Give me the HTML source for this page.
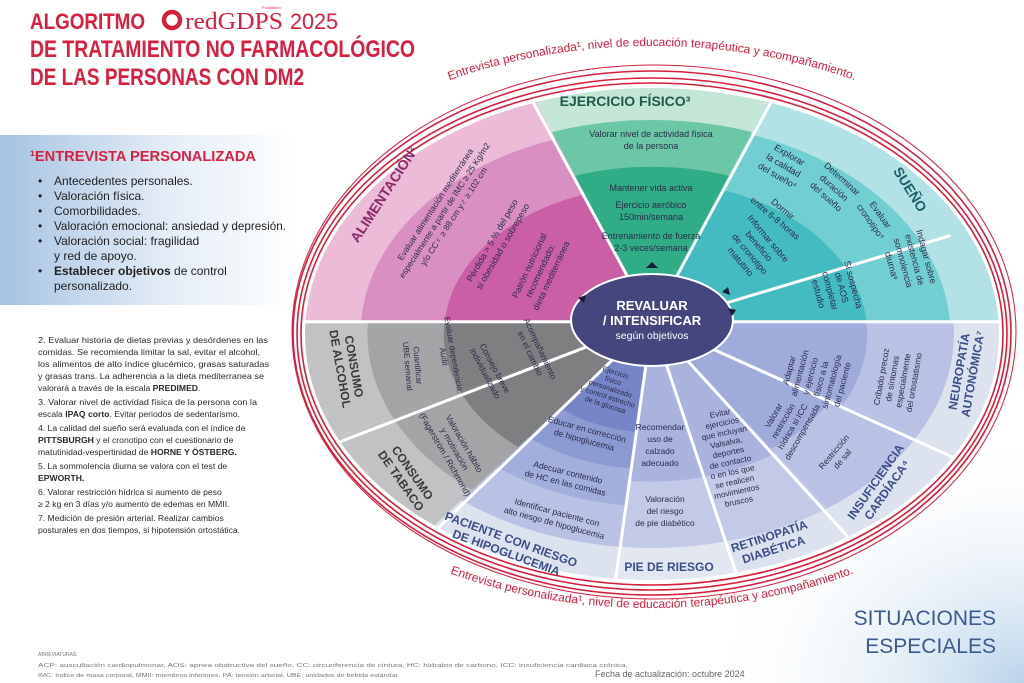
<!DOCTYPE html>
<html><head><meta charset="utf-8"><style>
html,body{margin:0;padding:0;background:#fff}
svg{display:block}
.n{font-family:"Liberation Sans Narrow","Liberation Sans",sans-serif}
.s{font-family:"Liberation Sans",sans-serif}
.w{fill:#2b2c4a;text-anchor:middle}
.lb{font-weight:bold;text-anchor:middle}
</style></head><body>
<svg width="1024" height="683" viewBox="0 0 1024 683" xmlns="http://www.w3.org/2000/svg">
<defs>
<linearGradient id="lg" x1="0" x2="1" y1="0" y2="0"><stop offset="0" stop-color="#a6c3e2"/><stop offset="0.55" stop-color="#e3ecf6"/><stop offset="1" stop-color="#fff"/></linearGradient>
<radialGradient id="br" cx="1" cy="1" r="1"><stop offset="0" stop-color="#b9d3ea"/><stop offset="1" stop-color="#fff" stop-opacity="0"/></radialGradient>
<clipPath id="c1"><polygon points="0,-0.05 -0.684,-1.879 -1.638,-1.147 -2,-0.05"/></clipPath>
<clipPath id="c2"><polygon points="0,-0.05 0.684,-1.879 0,-2 -0.684,-1.879"/></clipPath>
<clipPath id="c3"><polygon points="0,-0.05 2,-0.05 1.638,-1.147 0.684,-1.879"/></clipPath>
<clipPath id="c4"><polygon points="0,-0.05 2,-0.05 1.732,1"/></clipPath>
<clipPath id="c5"><polygon points="0,-0.05 1.732,1 1.130,1.650"/></clipPath>
<clipPath id="c6"><polygon points="0,-0.05 1.130,1.650 0.484,1.940"/></clipPath>
<clipPath id="c7"><polygon points="0,-0.05 0.484,1.940 -0.209,1.989"/></clipPath>
<clipPath id="c8"><polygon points="0,-0.05 -0.209,1.989 -1.231,1.576"/></clipPath>
<clipPath id="c9"><polygon points="0,-0.05 -1.231,1.576 -1.798,0.877"/></clipPath>
<clipPath id="c10"><polygon points="0,-0.05 -1.798,0.877 -2,-0.05"/></clipPath>
<path id="tp" d="M 222,336 A 430 290 0 0 1 1082,336"/>
<path id="bp" d="M 232,330 A 420 280 0 0 0 1072,330"/>
</defs>
<rect x="0" y="0" width="1024" height="683" fill="#fff"/>
<rect x="700" y="430" width="324" height="253" fill="url(#br)"/>
<rect x="0" y="135" width="300" height="170" fill="url(#lg)"/>

<g class="s" fill="#d81f3e" font-weight="bold">
<text x="30" y="29" font-size="22" textLength="115" lengthAdjust="spacingAndGlyphs">ALGORITMO</text>
<text x="30" y="57" font-size="24" textLength="385" lengthAdjust="spacingAndGlyphs">DE TRATAMIENTO NO FARMACOLÓGICO</text>
<text x="30" y="85" font-size="24" textLength="274" lengthAdjust="spacingAndGlyphs">DE LAS PERSONAS CON DM2</text>
</g>
<circle cx="172" cy="20" r="8" fill="none" stroke="#d81f3e" stroke-width="4.5"/>
<text x="185" y="29" font-family="Liberation Serif,serif" font-size="24" fill="#d81f3e" textLength="98" lengthAdjust="spacingAndGlyphs">redGDPS</text>
<text x="262" y="9" font-family="Liberation Sans" font-size="4" fill="#d81f3e">Fundación</text>
<text x="290" y="29" class="s" font-size="22" fill="#d81f3e" textLength="48" lengthAdjust="spacingAndGlyphs">2025</text>

<text x="30" y="161" class="s" font-weight="bold" font-size="15" fill="#d81f3e" textLength="226" lengthAdjust="spacingAndGlyphs">¹ENTREVISTA PERSONALIZADA</text>
<g class="s" font-size="12" fill="#222">
<text x="38" y="185">•</text><text x="54" y="185">Antecedentes personales.</text>
<text x="38" y="200">•</text><text x="54" y="200">Valoración física.</text>
<text x="38" y="215">•</text><text x="54" y="215">Comorbilidades.</text>
<text x="38" y="230">•</text><text x="54" y="230" textLength="232" lengthAdjust="spacingAndGlyphs">Valoración emocional: ansiedad y depresión.</text>
<text x="38" y="245">•</text><text x="54" y="245">Valoración social: fragilidad</text>
<text x="54" y="260">y red de apoyo.</text>
<text x="38" y="275">•</text><text x="54" y="275"><tspan font-weight="bold">Establecer objetivos</tspan> de control</text>
<text x="54" y="290">personalizado.</text>
</g>
<g class="s" font-size="8.6" fill="#2a2a2a">
<text x="38" y="343" textLength="230" lengthAdjust="spacingAndGlyphs">2. Evaluar historia de dietas previas y desórdenes en las</text>
<text x="38" y="355" textLength="222" lengthAdjust="spacingAndGlyphs">comidas. Se recomienda limitar la sal, evitar el alcohol,</text>
<text x="38" y="367" textLength="231" lengthAdjust="spacingAndGlyphs">los alimentos de alto índice glucémico, grasas saturadas</text>
<text x="38" y="379" textLength="226" lengthAdjust="spacingAndGlyphs">y grasas trans. La adherencia a la dieta mediterranea se</text>
<text x="38" y="391">valorará a través de la escala <tspan font-weight="bold">PREDIMED</tspan>.</text>
<text x="38" y="405" textLength="219" lengthAdjust="spacingAndGlyphs">3. Valorar nivel de actividad física de la persona con la</text>
<text x="38" y="417">escala <tspan font-weight="bold">IPAQ corto</tspan>. Evitar periodos de sedentarismo.</text>
<text x="38" y="431">4. La calidad del sueño será evaluada con el índice de</text>
<text x="38" y="443"><tspan font-weight="bold">PITTSBURGH</tspan> y el cronotipo con el cuestionario de</text>
<text x="38" y="455">matutinidad-vespertinidad de <tspan font-weight="bold">HORNE Y ÖSTBERG.</tspan></text>
<text x="38" y="469">5. La sommolencia diurna se valora con el test de</text>
<text x="38" y="481" font-weight="bold">EPWORTH.</text>
<text x="38" y="495">6. Valorar restricción hídrica si aumento de peso</text>
<text x="38" y="507">≥ 2 kg en 3 días y/o aumento de edemas en MMII.</text>
<text x="38" y="521">7. Medición de presión arterial.  Realizar cambios</text>
<text x="38" y="533">posturales en dos tiempos, si hipotensión ortostática.</text>
</g>
<g class="s" font-size="5" fill="#777">
<text x="38" y="656">ABREVIATURAS:</text>
<text x="38" y="667" textLength="590" lengthAdjust="spacingAndGlyphs">ACP: auscultación cardiopulmonar, AOS: apnea obstructiva del sueño, CC: circunferencia de cintura, HC: hidratos de carbono, ICC: insuficiencia cardiaca crónica,</text>
<text x="38" y="677" textLength="360" lengthAdjust="spacingAndGlyphs">IMC: índice de masa corporal, MMII: miembros inferiores, PA: tensión arterial, UBE: unidades de bebida estándar</text>
</g>
<text x="595" y="677" class="s" font-size="9" fill="#666">Fecha de actualización: octubre 2024</text>
<text x="996" y="625" class="s" font-size="21" fill="#3c5a8e" text-anchor="end">SITUACIONES</text>
<text x="996" y="653" class="s" font-size="21" fill="#3c5a8e" text-anchor="end">ESPECIALES</text>

<g fill="none" stroke="#d61e3a" stroke-width="1.6">
<ellipse cx="652" cy="334" rx="351" ry="251"/>
<ellipse cx="652" cy="334" rx="355" ry="256"/>
<ellipse cx="652" cy="333" rx="359" ry="262"/>
<ellipse cx="654" cy="332" rx="362" ry="267" stroke-width="1"/>
</g>

<g transform="translate(652,334) scale(347,246)">
<g clip-path="url(#c1)"><circle r="1" fill="#ebbbd8"/><circle r="0.84" fill="#da8fc2"/><circle r="0.6" fill="#cb5fa6"/></g>
<g clip-path="url(#c2)"><circle r="1" fill="#c3e6d6"/><circle r="0.87" fill="#6cc7a6"/><circle r="0.68" fill="#30ac86"/></g>
<g clip-path="url(#c3)"><circle r="1" fill="#b2e2e5"/><circle r="0.86" fill="#72cfd1"/><circle r="0.62" fill="#43bbc0"/></g>
<g clip-path="url(#c4)"><circle r="1" fill="#dde2ef"/><circle r="0.87" fill="#b9c2e4"/><circle r="0.62" fill="#9fabdb"/></g>
<g clip-path="url(#c5)"><circle r="1" fill="#dde2ef"/><circle r="0.87" fill="#b9c2e4"/><circle r="0.58" fill="#9fabdb"/></g>
<g clip-path="url(#c6)"><circle r="1" fill="#dde2ef"/><circle r="0.87" fill="#c2cae8"/><circle r="0.6" fill="#a9b3de"/></g>
<g clip-path="url(#c7)"><circle r="1" fill="#e3e7f2"/><circle r="0.87" fill="#c2cae8"/><circle r="0.6" fill="#a9b3de"/></g>
<g clip-path="url(#c8)"><circle r="1" fill="#dde2ef"/><circle r="0.87" fill="#b9c2e4"/><circle r="0.7" fill="#a2aedc"/><circle r="0.55" fill="#8c9ad2"/><circle r="0.4" fill="#7585c7"/></g>
<g clip-path="url(#c9)"><circle r="1" fill="#c2c2c4"/><circle r="0.82" fill="#a4a4a6"/><circle r="0.6" fill="#7f7f81"/></g>
<g clip-path="url(#c10)"><circle r="1" fill="#c2c2c4"/><circle r="0.82" fill="#a4a4a6"/><circle r="0.6" fill="#7f7f81"/></g>
<g stroke="#fff" stroke-width="3" fill="none">
<line x1="-1" y1="-0.05" x2="1" y2="-0.05" vector-effect="non-scaling-stroke"/>
<line x1="0" y1="-0.05" x2="-0.342" y2="-0.94" vector-effect="non-scaling-stroke"/>
<line x1="0" y1="-0.05" x2="0.342" y2="-0.94" vector-effect="non-scaling-stroke"/>
<line x1="0" y1="-0.05" x2="0.866" y2="0.5" vector-effect="non-scaling-stroke"/>
<line x1="0" y1="-0.05" x2="0.565" y2="0.825" vector-effect="non-scaling-stroke"/>
<line x1="0" y1="-0.05" x2="0.242" y2="0.97" vector-effect="non-scaling-stroke"/>
<line x1="0" y1="-0.05" x2="-0.1045" y2="0.9945" vector-effect="non-scaling-stroke"/>
<line x1="0" y1="-0.05" x2="-0.616" y2="0.788" vector-effect="non-scaling-stroke"/>
<line x1="0" y1="-0.05" x2="-0.899" y2="0.438" vector-effect="non-scaling-stroke"/>
<line x1="0.2" y1="-0.12" x2="0.86" y2="-0.4" vector-effect="non-scaling-stroke"/>
</g>
</g>
<ellipse cx="652" cy="320" rx="81" ry="46" fill="#46467f" stroke="#fff" stroke-width="2"/>
<g class="n" fill="#fff" text-anchor="middle">
<text x="652" y="310" font-size="13" font-weight="bold">REVALUAR</text>
<text x="652" y="325" font-size="13" font-weight="bold">/ INTENSIFICAR</text>
<text x="652" y="339" font-size="10.5">según objetivos</text>
</g>
<g fill="#1a1a3a"><path d="M646,268 l6,-6 6,6z"/><path d="M578,298 l8,-3 -2,8z"/><path d="M722,292 l6,-5 2,8z"/><path d="M728,308 l8,2 -4,6z"/></g>

<text class="s" font-size="12" fill="#d61e3a" text-anchor="middle"><textPath href="#tp" startOffset="50%">Entrevista personalizada¹, nivel de educación terapéutica y acompañamiento.</textPath></text>
<text class="s" font-size="12" fill="#d61e3a" text-anchor="middle" dy="-2"><textPath href="#bp" startOffset="50%">Entrevista personalizada¹, nivel de educación terapéutica y acompañamiento.</textPath></text>

<g class="n" font-size="9">
<text class="lb" x="625" y="106" fill="#1e5a46" font-size="14">EJERCICIO FÍSICO³</text>
<text class="w" x="651" y="137">Valorar nivel de actividad física</text>
<text class="w" x="651" y="149">de la persona</text>
<text class="w" x="651" y="191">Mantener vida activa</text>
<text class="w" x="651" y="208">Ejercicio aeróbico</text>
<text class="w" x="651" y="220">150min/semana</text>
<text class="w" x="651" y="239">Entrenamiento de fuerza</text>
<text class="w" x="651" y="251">2-3 veces/semana</text>

<text class="lb" transform="translate(388,197) rotate(-57)" fill="#8a2a6a" font-size="14">ALIMENTACIÓN²</text>
<text class="w" font-size="8.5" transform="translate(447,212) rotate(-57)"><tspan x="0" dy="-11">Evaluar alimentación mediterránea</tspan><tspan x="0" dy="11">especialmente a partir de IMC ≥ 25 Kg/m2</tspan><tspan x="0" dy="11">y/o CC♀ ≥ 88 cm y♂ ≥ 102 cm</tspan></text>
<text class="w" transform="translate(500,245) rotate(-60)"><tspan x="0" dy="-6">Pérdida &gt; 5 % del peso</tspan><tspan x="0" dy="12">si obesidad o sobrepeso</tspan></text>
<text class="w" transform="translate(543,272) rotate(-65)"><tspan x="0" dy="-12">Patrón nutricional</tspan><tspan x="0" dy="12">recomendado:</tspan><tspan x="0" dy="12">dieta mediterránea</tspan></text>

<text class="lb" transform="translate(906,192) rotate(58)" fill="#1b5f66" font-size="14">SUEÑO</text>
<text class="w" transform="translate(782,168) rotate(30)"><tspan x="0" dy="-12">Explorar</tspan><tspan x="0" dy="12">la calidad</tspan><tspan x="0" dy="12">del sueño⁴</tspan></text>
<text class="w" transform="translate(832,190) rotate(42)"><tspan x="0" dy="-12">Determinar</tspan><tspan x="0" dy="12">duración</tspan><tspan x="0" dy="12">del sueño</tspan></text>
<text class="w" transform="translate(873,220) rotate(55)"><tspan x="0" dy="-6">Evaluar</tspan><tspan x="0" dy="12">cronotipo⁴</tspan></text>
<text class="w" transform="translate(777,216) rotate(40)"><tspan x="0" dy="-6">Dormir</tspan><tspan x="0" dy="12">entre 6-8 horas</tspan></text>
<text class="w" transform="translate(752,252) rotate(50)"><tspan x="0" dy="-18">Informar sobre</tspan><tspan x="0" dy="12">beneficio</tspan><tspan x="0" dy="12">de cronotipo</tspan><tspan x="0" dy="12">matutino</tspan></text>
<text class="w" transform="translate(833,290) rotate(75)"><tspan x="0" dy="-18">Si sospecha</tspan><tspan x="0" dy="12">de AOS</tspan><tspan x="0" dy="12">completar</tspan><tspan x="0" dy="12">estudio</tspan></text>
<text class="w" transform="translate(906,262) rotate(75)"><tspan x="0" dy="-18">Indagar sobre</tspan><tspan x="0" dy="12">existencia de</tspan><tspan x="0" dy="12">somnolencia</tspan><tspan x="0" dy="12">diurna⁸</tspan></text>

<text class="w" font-size="8.5" transform="translate(818,378) rotate(-75)"><tspan x="0" dy="-27">Adaptar</tspan><tspan x="0" dy="11">alimentación</tspan><tspan x="0" dy="11">y ejercicio</tspan><tspan x="0" dy="11">físico a la</tspan><tspan x="0" dy="11">sintomatología</tspan><tspan x="0" dy="11">del paciente</tspan></text>
<text class="w" font-size="8.5" transform="translate(900,380) rotate(-80)"><tspan x="0" dy="-16">Cribado precoz</tspan><tspan x="0" dy="11">de síntomas</tspan><tspan x="0" dy="11">especialmente</tspan><tspan x="0" dy="11">del ortostatismo</tspan></text>
<text class="lb" font-size="12" fill="#3b4f86" transform="translate(968,373) rotate(-80)"><tspan x="0" dy="-5">NEUROPATÍA</tspan><tspan x="0" dy="14">AUTONÓMICA⁷</tspan></text>
<text class="w" font-size="8.5" transform="translate(790,425) rotate(-60)"><tspan x="0" dy="-16">Valorar</tspan><tspan x="0" dy="11">restricción</tspan><tspan x="0" dy="11">hídrica si ICC</tspan><tspan x="0" dy="11">descompensada</tspan></text>
<text class="w" font-size="8.5" transform="translate(840,457) rotate(-50)"><tspan x="0" dy="-5">Restricción</tspan><tspan x="0" dy="11">de sal</tspan></text>
<text class="lb" font-size="12" fill="#3b4f86" transform="translate(883,487) rotate(-55)"><tspan x="0" dy="-5">INSUFICIENCIA</tspan><tspan x="0" dy="14">CARDÍACA⁴</tspan></text>
<text class="w" font-size="8.2" transform="translate(730,460) rotate(-12)"><tspan x="0" dy="-45">Evitar</tspan><tspan x="0" dy="10">ejercicios</tspan><tspan x="0" dy="10">que incluyan</tspan><tspan x="0" dy="10">Valsalva,</tspan><tspan x="0" dy="10">deportes</tspan><tspan x="0" dy="10">de contacto</tspan><tspan x="0" dy="10">o en los que</tspan><tspan x="0" dy="10">se realicen</tspan><tspan x="0" dy="10">movimientos</tspan><tspan x="0" dy="10">bruscos</tspan></text>
<text class="lb" font-size="12" fill="#3b4f86" transform="translate(772,545) rotate(-18)"><tspan x="0" dy="-5">RETINOPATÍA</tspan><tspan x="0" dy="14">DIABÉTICA</tspan></text>
<text class="w" font-size="8.5"><tspan x="660" y="430">Recomendar</tspan><tspan x="660" y="442">uso de</tspan><tspan x="660" y="454">calzado</tspan><tspan x="660" y="466">adecuado</tspan></text>
<text class="w" font-size="8.5"><tspan x="665" y="502">Valoración</tspan><tspan x="665" y="514">del riesgo</tspan><tspan x="665" y="526">de pie diabético</tspan></text>
<text class="lb" font-size="12" fill="#3b4f86" x="669" y="571">PIE DE RIESGO</text>
<text class="w" font-size="7.2" transform="translate(610,390) rotate(18)"><tspan x="0" dy="-16">Ejercicio</tspan><tspan x="0" dy="8.5">físico</tspan><tspan x="0" dy="8.5">personalizado</tspan><tspan x="0" dy="8.5">y control estrecho</tspan><tspan x="0" dy="8.5">de la glucosa</tspan></text>
<text class="w" font-size="8.5" transform="translate(585,437) rotate(15)"><tspan x="0" dy="-5">Educar en corrección</tspan><tspan x="0" dy="11">de hipoglucemia</tspan></text>
<text class="w" font-size="8.5" transform="translate(566,480) rotate(14)"><tspan x="0" dy="-5">Adecuar contenido</tspan><tspan x="0" dy="11">de HC en las comidas</tspan></text>
<text class="w" font-size="8.5" transform="translate(555,520) rotate(15)"><tspan x="0" dy="-5">Identificar paciente con</tspan><tspan x="0" dy="11">alto riesgo de hipoglucemia</tspan></text>
<text class="lb" font-size="12" fill="#3b4f86" transform="translate(508,548) rotate(20)"><tspan x="0" dy="-5">PACIENTE CON RIESGO</tspan><tspan x="0" dy="14">DE HIPOGLUCEMIA</tspan></text>

<text class="w" font-size="8.5" transform="translate(533,352) rotate(65)"><tspan x="0" dy="-5">Acompañamiento</tspan><tspan x="0" dy="11">en el cambio</tspan></text>
<text class="w" font-size="8.5" transform="translate(488,372) rotate(62)"><tspan x="0" dy="-5">Consejo breve</tspan><tspan x="0" dy="11">individualizado</tspan></text>
<text class="w" font-size="8" transform="translate(447,356) rotate(80)"><tspan x="0" dy="-4">Evaluar dependencia:</tspan><tspan x="0" dy="10">Audit</tspan></text>
<text class="w" font-size="8" transform="translate(411,366) rotate(85)"><tspan x="0" dy="-4">Cuantificar</tspan><tspan x="0" dy="10">UBE semanal</tspan></text>
<text class="lb" font-size="12" fill="#3a3a3a" transform="translate(345,368) rotate(80)"><tspan x="0" dy="-5">CONSUMO</tspan><tspan x="0" dy="14">DE ALCOHOL</tspan></text>
<text class="w" font-size="8.5" transform="translate(453,450) rotate(60)"><tspan x="0" dy="-10">Valoración hábito</tspan><tspan x="0" dy="11">y motivación</tspan><tspan x="0" dy="11">(Fagerström / Richmond)</tspan></text>
<text class="lb" font-size="12" fill="#3a3a3a" transform="translate(405,478) rotate(55)"><tspan x="0" dy="-5">CONSUMO</tspan><tspan x="0" dy="14">DE TABACO</tspan></text>
</g>
</svg>
</body></html>
